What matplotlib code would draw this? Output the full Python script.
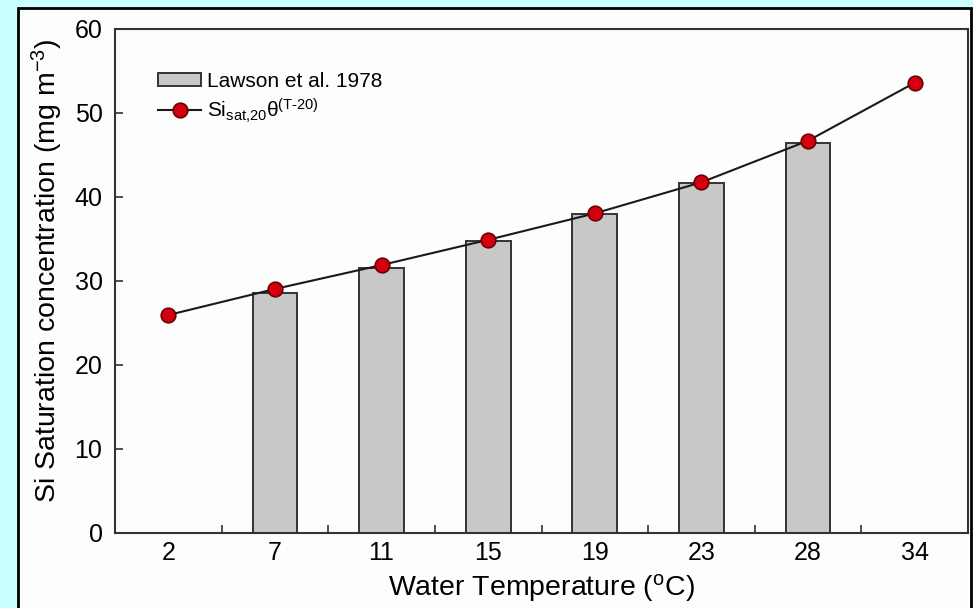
import numpy as np
import matplotlib
matplotlib.use("Agg")
import matplotlib.pyplot as plt
from matplotlib.patches import Rectangle
from matplotlib.ticker import FixedLocator

plt.rcParams['font.family'] = ['Liberation Sans', 'DejaVu Sans']
plt.rcParams['mathtext.fontset'] = 'custom'
plt.rcParams['mathtext.rm'] = 'Liberation Sans'
plt.rcParams['mathtext.it'] = 'Liberation Sans:italic'

# Water temperature classes (deg C)
temps = ['2', '7', '11', '15', '19', '23', '28', '34']
# Lawson et al. 1978 saturation values (no data at 2 and 34 deg C)
lawson = [np.nan, 28.55, 31.5, 34.8, 38.0, 41.65, 46.4, np.nan]
# Temperature-corrected saturation Si_sat,20 * theta^(T-20)
si_model = [25.95, 29.05, 31.9, 34.9, 38.05, 41.75, 46.7, 53.6]

fig = plt.figure(figsize=(9.73, 6.08), dpi=100)
fig.patch.set_facecolor('#cbffff')

# white panel with black border behind the plot
panel = Rectangle((18 / 973, -0.02), 953 / 973, 1.02 - 8 / 608,
                  transform=fig.transFigure, facecolor='#fdfdfd',
                  edgecolor='black', linewidth=2, zorder=-10)
fig.patches.append(panel)

ax = fig.add_axes([115 / 973, 75 / 608, 853 / 973, 504 / 608])
ax.set_facecolor('#fdfdfd')

x = np.arange(len(temps))
bars = ax.bar(x, lawson, width=0.42, color='#c8c8c8', edgecolor='#333333',
              linewidth=1.4, zorder=2)
line, = ax.plot(x, si_model, color='#1a1a1a', linewidth=1.5, marker='o',
                markersize=10.5, markerfacecolor='#d4000f',
                markeredgecolor='#6a0000', markeredgewidth=1.2, zorder=3)

ax.set_xlim(-0.5, len(temps) - 0.5)
ax.set_ylim(0, 60)
ax.set_yticks(np.arange(0, 61, 10))
ax.set_xticks(x)
ax.set_xticklabels(temps)
ax.xaxis.set_minor_locator(FixedLocator(np.arange(0.5, len(temps) - 1, 1)))

ax.tick_params(axis='x', which='major', length=0, pad=6, labelsize=18)
ax.tick_params(axis='x', which='minor', direction='in', length=6,
               width=1.2, color='#333333')
ax.tick_params(axis='y', which='major', direction='in', length=6,
               width=1.2, color='#333333', labelsize=18, pad=9)

for side in ax.spines.values():
    side.set_color('#333333')
    side.set_linewidth(1.5)

ax.set_xlabel('Water Temperature ($^{\\mathrm{o}}$C)', fontsize=20.5)
ax.set_ylabel('Si Saturation concentration (mg m$^{-3}$)', fontsize=20.5)
ax.xaxis.set_label_coords(0.5, -0.078)
ax.yaxis.set_label_coords(-0.059, 0.52)

ax.legend([bars, line],
          ['Lawson et al. 1978',
           r'Si$_{\mathrm{sat{,}20}}$θ$^{(\mathrm{T\text{-}20})}$'],
          loc='upper left', bbox_to_anchor=(0.041, 0.932), frameon=False,
          fontsize=15, handlelength=2.07, handleheight=0.58,
          handletextpad=0.25, labelspacing=0.28, borderaxespad=0)

fig.savefig('out.png', dpi=100, facecolor=fig.get_facecolor())
